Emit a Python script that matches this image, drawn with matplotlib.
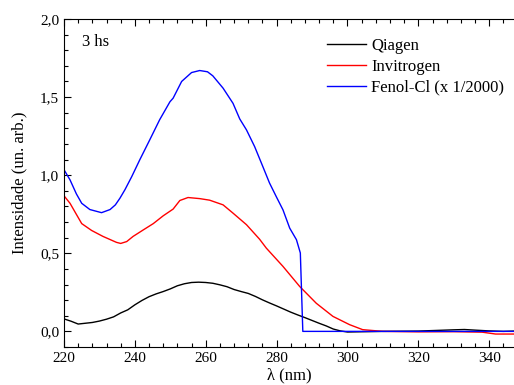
import matplotlib
matplotlib.use("Agg")
from matplotlib import pyplot as plt
from matplotlib.ticker import MultipleLocator, FuncFormatter

# wavelength (nm) and absorbance values
qiagenX = [220, 222, 224, 226, 228, 230, 232, 234, 236, 238, 240, 242, 244, 246, 248,
           250, 252, 254, 256, 258, 260, 262, 264, 266, 268, 270, 272, 274, 276, 278,
           280, 282, 284, 286, 288, 290, 292, 294, 296, 298, 300, 305, 310, 315, 320,
           325, 330, 333, 336, 340, 344, 347]
qiagenY = [0.08, 0.065, 0.047, 0.052, 0.057, 0.066, 0.078, 0.093, 0.118, 0.138, 0.17,
           0.198, 0.222, 0.24, 0.255, 0.272, 0.292, 0.305, 0.313, 0.315, 0.313, 0.308,
           0.298, 0.286, 0.268, 0.255, 0.243, 0.224, 0.202, 0.182, 0.163, 0.143, 0.123,
           0.105, 0.088, 0.07, 0.052, 0.035, 0.015, 0.003, -0.004, -0.002, 0.0, 0.001,
           0.002, 0.006, 0.01, 0.012, 0.008, 0.003, 0.0, 0.002]

invitrogenX = [220, 221.7, 223.6, 225, 227.8, 231, 234.8, 236, 237.7, 239.5, 242.4,
               245.2, 248, 250.8, 252.7, 255, 258.3, 261.1, 264.9, 267.7, 271.5, 275.2,
               277.1, 281.8, 286.5, 291.2, 295.9, 300.6, 304.3, 310, 320, 330, 338,
               341.8, 347]
invitrogenY = [0.868, 0.82, 0.745, 0.69, 0.646, 0.608, 0.57, 0.563, 0.575, 0.608, 0.65,
               0.69, 0.74, 0.783, 0.838, 0.857, 0.85, 0.84, 0.81, 0.757, 0.683, 0.59,
               0.533, 0.416, 0.288, 0.18, 0.096, 0.043, 0.011, 0.0, -0.003, -0.002,
               -0.005, -0.017, -0.017]

fenolX = [220, 221.7, 223.5, 225, 227.3, 230.6, 233, 234.5, 235.8, 237.2, 239.1, 241.4,
          244.2, 247, 249.9, 250.8, 253.2, 256, 258.3, 260.5, 262, 264.9, 267.7, 269.6,
          271.5, 273.8, 276.1, 278, 279.9, 281.8, 283.7, 285.6, 286.7, 287.4, 295, 310,
          330, 347]
fenolY = [1.035, 0.97, 0.88, 0.82, 0.78, 0.76, 0.78, 0.81, 0.853, 0.907, 0.99, 1.099,
          1.226, 1.355, 1.47, 1.493, 1.6, 1.657, 1.67, 1.662, 1.636, 1.557, 1.46, 1.36,
          1.29, 1.183, 1.056, 0.95, 0.863, 0.778, 0.661, 0.587, 0.502, 0.0, 0.0, 0.0,
          0.0, 0.0]

plt.rcParams['font.family'] = ['Liberation Serif', 'DejaVu Serif']

fig = plt.figure(figsize=(5.14, 3.85), dpi=100)
ax = fig.add_axes([0.1245, 0.0987, 0.8755, 0.852])

ax.plot(qiagenX, qiagenY, color="black", lw=1.0, label="Qiagen")
ax.plot(invitrogenX, invitrogenY, color="red", lw=1.0, label="Invitrogen")
ax.plot(fenolX, fenolY, color="blue", lw=1.0, label="Fenol-Cl (x 1/2000)")

ax.set_xlim(220, 347)
ax.set_ylim(-0.1, 2.0)
ax.xaxis.set_major_locator(MultipleLocator(20))
ax.xaxis.set_minor_locator(MultipleLocator(4))
ax.yaxis.set_major_locator(MultipleLocator(0.5))
ax.yaxis.set_minor_locator(MultipleLocator(0.1))
ax.yaxis.set_major_formatter(FuncFormatter(lambda v, p: "{:.1f}".format(v).replace(".", ",")))

ax.tick_params(which="both", direction="in", top=True, right=False, labelsize=11)
ax.tick_params(which="major", length=5, width=0.8)
ax.tick_params(which="minor", length=3, width=0.8)
ax.spines["right"].set_visible(False)

ax.set_xlabel("λ (nm)", fontsize=12, labelpad=2)
ax.set_ylabel("Intensidade (un. arb.)", fontsize=12, labelpad=9)
ax.text(0.04, 0.955, "3 hs", transform=ax.transAxes, fontsize=12, va="top")

ax.legend(loc="upper right", frameon=False, fontsize=12, handlelength=2.3,
          handletextpad=0.35, labelspacing=0.28, bbox_to_anchor=(1.012, 0.987))

fig.savefig("out.png", dpi=100)
